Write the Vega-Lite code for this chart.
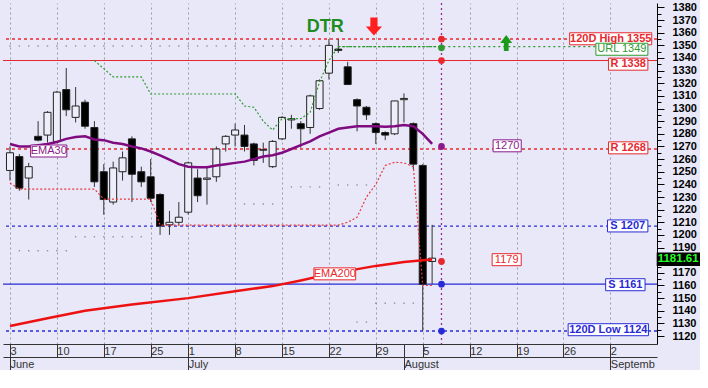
{
  "$schema": "https://vega.github.io/schema/vega-lite/v6.json",
  "width": 654,
  "height": 341,
  "autosize": {"type": "none"},
  "padding": {"left": 3, "top": 3, "right": 43, "bottom": 26},
  "background": "#e8e8f8",
  "config": {
    "view": {"stroke": null},
    "font": "Liberation Sans",
    "legend": {"disable": true},
    "axis": {"labelFont": "Liberation Sans", "titleFont": "Liberation Sans"}
  },
  "resolve": {"axis": {"x": "independent", "y": "independent"}},
  "datasets": {
    "candles": [
      {"t":0,"date":"06-03","o":1251,"h":1270,"l":1243,"c":1265,"ema30":1272},
      {"t":1,"date":"06-04","o":1262,"h":1264,"l":1235,"c":1237,"ema30":1270},
      {"t":2,"date":"06-05","o":1245,"h":1257,"l":1228,"c":1254,"ema30":1270},
      {"t":3,"date":"06-06","o":1278,"h":1290,"l":1274,"c":1275,"ema30":1271},
      {"t":4,"date":"06-07","o":1279,"h":1298,"l":1273,"c":1297,"ema30":1272},
      {"t":5,"date":"06-10","o":1274,"h":1314,"l":1273,"c":1313,"ema30":1273.5},
      {"t":6,"date":"06-11","o":1315,"h":1332,"l":1294,"c":1299,"ema30":1276},
      {"t":7,"date":"06-12","o":1293,"h":1317,"l":1289,"c":1302,"ema30":1277.5},
      {"t":8,"date":"06-13","o":1305,"h":1307,"l":1284,"c":1286,"ema30":1278},
      {"t":9,"date":"06-14","o":1285,"h":1290,"l":1238,"c":1242,"ema30":1275.5},
      {"t":10,"date":"06-17","o":1250,"h":1256,"l":1216,"c":1228,"ema30":1275},
      {"t":11,"date":"06-18","o":1226,"h":1258,"l":1224,"c":1253,"ema30":1273},
      {"t":12,"date":"06-19","o":1250,"h":1266,"l":1243,"c":1261,"ema30":1272},
      {"t":13,"date":"06-20","o":1276,"h":1278,"l":1226,"c":1248,"ema30":1270},
      {"t":14,"date":"06-21","o":1250,"h":1254,"l":1238,"c":1242,"ema30":1268.5},
      {"t":15,"date":"06-25","o":1246,"h":1260,"l":1226,"c":1229,"ema30":1266},
      {"t":16,"date":"06-26","o":1232,"h":1233,"l":1200,"c":1207,"ema30":1263},
      {"t":17,"date":"06-27","o":1208,"h":1219,"l":1200,"c":1210,"ema30":1259.5},
      {"t":18,"date":"06-28","o":1210,"h":1226,"l":1208,"c":1214,"ema30":1256},
      {"t":19,"date":"07-01","o":1218,"h":1258,"l":1216,"c":1257,"ema30":1254},
      {"t":20,"date":"07-02","o":1245,"h":1252,"l":1226,"c":1231,"ema30":1253.5},
      {"t":21,"date":"07-03","o":1244,"h":1254,"l":1224,"c":1245,"ema30":1253.5},
      {"t":22,"date":"07-04","o":1246,"h":1270,"l":1242,"c":1268,"ema30":1255},
      {"t":23,"date":"07-05","o":1272,"h":1279,"l":1266,"c":1278,"ema30":1256},
      {"t":24,"date":"07-08","o":1279,"h":1288,"l":1270,"c":1283,"ema30":1257},
      {"t":25,"date":"07-09","o":1279,"h":1287,"l":1266,"c":1270,"ema30":1258},
      {"t":26,"date":"07-10","o":1272,"h":1273,"l":1255,"c":1259,"ema30":1260},
      {"t":27,"date":"07-11","o":1267,"h":1273,"l":1257,"c":1267.5,"ema30":1262},
      {"t":28,"date":"07-12","o":1254,"h":1275,"l":1253,"c":1274,"ema30":1263},
      {"t":29,"date":"07-15","o":1276,"h":1294,"l":1275,"c":1293,"ema30":1265},
      {"t":30,"date":"07-16","o":1291,"h":1295,"l":1284,"c":1292,"ema30":1268},
      {"t":31,"date":"07-17","o":1288,"h":1290,"l":1269,"c":1284,"ema30":1271},
      {"t":32,"date":"07-18","o":1285,"h":1311,"l":1280,"c":1310,"ema30":1274},
      {"t":33,"date":"07-19","o":1300,"h":1323,"l":1299,"c":1322,"ema30":1278},
      {"t":34,"date":"07-22","o":1328,"h":1355,"l":1323,"c":1350,"ema30":1281},
      {"t":35,"date":"07-23","o":1347,"h":1355,"l":1344,"c":1346,"ema30":1284},
      {"t":36,"date":"07-24","o":1333,"h":1337,"l":1319,"c":1319,"ema30":1285},
      {"t":37,"date":"07-25","o":1307,"h":1308,"l":1282,"c":1302,"ema30":1286},
      {"t":38,"date":"07-26","o":1301,"h":1302,"l":1291,"c":1295,"ema30":1286},
      {"t":39,"date":"07-29","o":1288,"h":1289,"l":1272,"c":1281,"ema30":1286},
      {"t":40,"date":"07-30","o":1281,"h":1282,"l":1275,"c":1279,"ema30":1285.5},
      {"t":41,"date":"07-31","o":1280,"h":1306,"l":1279,"c":1306,"ema30":1286},
      {"t":42,"date":"08-01","o":1307,"h":1312,"l":1289,"c":1308,"ema30":1287},
      {"t":43,"date":"08-02","o":1288,"h":1289,"l":1252,"c":1256,"ema30":1286},
      {"t":44,"date":"08-05","o":1255,"h":1256,"l":1124,"c":1161,"ema30":1280},
      {"t":45,"date":"08-06","o":1179,"h":1208,"l":1161,"c":1181.61,"ema30":1272}
    ],
    "ema200": [
      {"t":0,"v":1128},{"t":4,"v":1134},{"t":8,"v":1140},{"t":13,"v":1145},
      {"t":19,"v":1150},{"t":24,"v":1155.5},{"t":28,"v":1159.5},{"t":31,"v":1164},
      {"t":34,"v":1169},{"t":39,"v":1175.5},{"t":42,"v":1178.5},{"t":44,"v":1180},{"t":45,"v":1180.5}
    ],
    "upper": [
      {"t":9,"v":1338},{"t":11,"v":1325},{"t":14,"v":1325},{"t":15,"v":1311.5},
      {"t":24,"v":1311.5},{"t":25,"v":1302},{"t":26,"v":1301},{"t":27,"v":1290},
      {"t":28,"v":1283},{"t":29,"v":1292},{"t":31,"v":1292},{"t":32,"v":1297},
      {"t":33,"v":1321},{"t":34,"v":1338},{"t":35,"v":1349},{"t":46,"v":1349}
    ],
    "lower": [
      {"t":0,"v":1241},{"t":1,"v":1236.3},{"t":9,"v":1236.3},{"t":10,"v":1228.4},
      {"t":15,"v":1228.4},{"t":16,"v":1207.8},{"t":35,"v":1207.8},{"t":36,"v":1210},
      {"t":37,"v":1214},{"t":38,"v":1230},{"t":39,"v":1240},{"t":40,"v":1255},
      {"t":41,"v":1257.5},{"t":42,"v":1257},{"t":43,"v":1254},{"t":44,"v":1160},{"t":45,"v":1160}
    ],
    "stops": [
      {"t":0,"v":1349.5},{"t":1,"v":1349.5},{"t":2,"v":1349.5},{"t":3,"v":1349.5},{"t":4,"v":1349.5},
      {"t":5,"v":1349.5},{"t":6,"v":1349.5},{"t":7,"v":1349.5},{"t":8,"v":1349.5},{"t":9,"v":1349.5},
      {"t":10,"v":1349.5},{"t":11,"v":1349.5},{"t":12,"v":1349.5},{"t":13,"v":1349.5},{"t":14,"v":1349.5},
      {"t":15,"v":1349.5},{"t":16,"v":1349.5},{"t":17,"v":1349.5},{"t":18,"v":1349.5},{"t":19,"v":1349.5},
      {"t":20,"v":1349.5},{"t":21,"v":1349.5},{"t":22,"v":1349.5},{"t":23,"v":1349.5},{"t":24,"v":1349.5},
      {"t":25,"v":1349.5},{"t":26,"v":1349.5},{"t":27,"v":1349.5},{"t":28,"v":1349.5},{"t":29,"v":1349.5},
      {"t":30,"v":1349.5},{"t":31,"v":1349.5},{"t":32,"v":1349.5},{"t":33,"v":1349.5},
      {"t":1,"v":1187.5},{"t":2,"v":1187.5},{"t":3,"v":1187.5},{"t":4,"v":1187.5},{"t":5,"v":1187.5},{"t":6,"v":1187.5},
      {"t":7,"v":1198.6},{"t":8,"v":1198.6},{"t":9,"v":1198.6},{"t":10,"v":1198.6},{"t":11,"v":1198.6},
      {"t":12,"v":1198.6},{"t":13,"v":1198.6},{"t":14,"v":1198.6},
      {"t":25,"v":1224.5},{"t":26,"v":1224.5},{"t":27,"v":1224.5},{"t":28,"v":1224.5},
      {"t":30,"v":1238},{"t":31,"v":1238},{"t":32,"v":1238},{"t":33,"v":1238},
      {"t":35,"v":1239.5},{"t":36,"v":1239.5},{"t":37,"v":1239.5},{"t":38,"v":1239.5},
      {"t":37,"v":1131},{"t":38,"v":1131},
      {"t":39,"v":1146},{"t":40,"v":1146},{"t":41,"v":1146},{"t":42,"v":1146},{"t":43,"v":1146}
    ],
    "levels": [
      {"label":"120D High 1355","v":1355,"kind":"high"},
      {"label":"URL 1349","v":1349,"kind":"url","start":35,"end":68},
      {"label":"R 1338","v":1338,"kind":"resistance"},
      {"label":"R 1268","v":1268,"kind":"resistance"},
      {"label":"S 1207","v":1207,"kind":"support"},
      {"label":"S 1161","v":1161,"kind":"support"},
      {"label":"120D Low 1124","v":1124,"kind":"low"}
    ],
    "projection": [
      {"t":46,"v":1355,"kind":"high"},
      {"t":46,"v":1348,"kind":"url"},
      {"t":46,"v":1338,"kind":"resistance"},
      {"t":46,"v":1270,"kind":"ema30"},
      {"t":46,"v":1179,"kind":"ema200"},
      {"t":46,"v":1161,"kind":"support"},
      {"t":46,"v":1124,"kind":"low"}
    ],
    "labels": [
      {"text":"120D High 1355","v":1355.2,"t1":59.66,"t2":68.41,"tm":64.04,"kind":"high","bold":true},
      {"text":"URL 1349","v":1346.9,"t1":62.46,"t2":68.0,"tm":65.23,"kind":"url","bold":false},
      {"text":"R 1338","v":1335.1,"t1":63.8,"t2":68.0,"tm":65.9,"kind":"resistance","bold":true},
      {"text":"1270","v":1270.5,"t1":51.5,"t2":54.5,"tm":53.0,"kind":"ema30","bold":false},
      {"text":"R 1268","v":1268.9,"t1":63.8,"t2":68.0,"tm":65.9,"kind":"resistance","bold":true},
      {"text":"S 1207","v":1207.1,"t1":63.7,"t2":68.0,"tm":65.85,"kind":"support","bold":true},
      {"text":"1179","v":1180.4,"t1":51.4,"t2":54.5,"tm":52.95,"kind":"ema200","bold":false},
      {"text":"S 1161","v":1160.6,"t1":63.5,"t2":67.7,"tm":65.6,"kind":"support","bold":true},
      {"text":"120D Low 1124","v":1125.0,"t1":59.5,"t2":68.06,"tm":63.78,"kind":"low","bold":true},
      {"text":"EMA30","v":1266.4,"t1":2.2,"t2":6.06,"tm":4.13,"kind":"ema30","bold":false},
      {"text":"EMA200","v":1169.2,"t1":32.4,"t2":36.85,"tm":34.63,"kind":"ema200","bold":false}
    ],
    "last": [{"text":"1181.61","v":1181,"t1":68.94,"t2":75}],
    "marker": [{"t":46,"date":"08-07"}],
    "title": [{"text":"DTR","t":33.6,"v":1364.5}],
    "signals": [
      {"signal":"sell","t":38.8,"v":1365},
      {"signal":"buy","t":52.9,"v":1351.8}
    ]
  },
  "layer": [
    {
      "data": {"name": "levels"},
      "transform": [{"filter": "datum.kind != 'url' && datum.v != 1338 && datum.v != 1161"}],
      "mark": {"type": "rule", "strokeDash": [3, 3], "strokeWidth": 1.3},
      "encoding": {
        "y": {
          "field": "v", "type": "quantitative", "title": null,
          "scale": {"domain": [1113.7, 1383.5], "nice": false, "zero": false},
          "axis": {
            "orient": "right",
            "values": [1120,1125,1130,1135,1140,1145,1150,1155,1160,1165,1170,1175,1180,1185,1190,1195,1200,1205,1210,1215,1220,1225,1230,1235,1240,1245,1250,1255,1260,1265,1270,1275,1280,1285,1290,1295,1300,1305,1310,1315,1320,1325,1330,1335,1340,1345,1350,1355,1360,1365,1370,1375,1380],
            "format": "d",
            "labelExpr": "datum.value % 10 == 0 && datum.value != 1180 ? datum.label : ''",
            "tickSize": {"condition": {"test": "datum.value % 10 != 0", "value": 4}, "value": 7},
            "labelPadding": 8,
            "labelFontWeight": "bold",
            "labelFontSize": 11,
            "labelColor": "#000000",
            "tickColor": "#000000",
            "domainColor": "#000000",
            "grid": false,
            "labelOverlap": false,
            "labelSeparation": 0,
            "labelFlush": false,
            "labelBound": false,
            "title": null,
            "zindex": 0
          }
        },
        "color": {
          "field": "kind", "type": "nominal",
          "scale": {"domain": ["high","url","resistance","support","low","ema30","ema200"], "range": ["#e8282e","#2f9a2f","#e8282e","#2b2bd6","#2b2bd6","#8b1a8b","#e8282e"]}
        }
      }
    },
    {
      "data": {"name": "levels"},
      "transform": [{"filter": "datum.v == 1338 || datum.v == 1161"}],
      "mark": {"type": "rule", "strokeWidth": 1.2},
      "encoding": {
        "y": {"field": "v", "type": "quantitative", "title": null, "axis": null},
        "color": {"field": "kind", "type": "nominal"}
      }
    },
    {
      "data": {"name": "levels"},
      "transform": [{"filter": "datum.kind == 'url'"}],
      "mark": {"type": "rule", "strokeDash": [2, 3], "strokeWidth": 1.2},
      "encoding": {
        "x": {"field": "start", "type": "quantitative", "title": null, "axis": null,
              "scale": {"domain": [-0.21, 68.44], "nice": false, "zero": false}},
        "x2": {"field": "end"},
        "y": {"field": "v", "type": "quantitative", "title": null, "axis": null},
        "color": {"field": "kind", "type": "nominal"}
      }
    },
    {
      "data": {"name": "stops"},
      "mark": {"type": "square", "size": 2, "color": "#8a8a96", "opacity": 0.9, "clip": true},
      "encoding": {
        "x": {"field": "t", "type": "quantitative", "title": null, "axis": null},
        "y": {"field": "v", "type": "quantitative", "title": null, "axis": null}
      }
    },
    {
      "data": {"name": "marker"},
      "mark": {"type": "rule", "color": "#9a2a9a", "strokeDash": [2, 3], "strokeWidth": 1.3},
      "encoding": {
        "x": {
          "field": "t", "type": "quantitative", "title": null,
          "axis": {
            "orient": "bottom", "offset": 13,
            "values": [0, 19, 42, 64],
            "labelExpr": "datum.value == 0 ? 'June' : datum.value == 19 ? 'July' : datum.value == 42 ? 'August' : 'Septemb'",
            "tickSize": 13, "tickColor": "#333333", "domainColor": "#333333",
            "labelAlign": "left", "labelBaseline": "middle", "labelPadding": -6, "labelDx": 2,
            "labelFontSize": 11, "labelColor": "#333333",
            "grid": false, "labelFlush": false, "labelOverlap": false, "labelBound": false,
            "title": null, "zindex": 0
          }
        }
      }
    },
    {
      "data": {"name": "candles"},
      "mark": {"type": "rule", "color": "#333333", "strokeWidth": 1, "clip": true},
      "encoding": {
        "x": {
          "field": "t", "type": "quantitative", "title": null,
          "axis": {
            "orient": "top",
            "values": [0, 5, 10, 15, 19, 24, 29, 34, 39, 44, 49, 54, 59, 64],
            "grid": true, "gridColor": "#9a9aaa", "gridDash": [2, 3], "gridWidth": 1,
            "ticks": false, "labels": false, "domain": false, "title": null, "zindex": 0
          }
        },
        "y": {"field": "l", "type": "quantitative", "title": null, "axis": null},
        "y2": {"field": "h"}
      }
    },
    {
      "data": {"name": "candles"},
      "mark": {"type": "bar", "width": 7, "stroke": "#222222", "strokeWidth": 1, "clip": true},
      "encoding": {
        "x": {
          "field": "t", "type": "quantitative", "title": null,
          "axis": {
            "orient": "bottom",
            "values": [0, 5, 10, 15, 19, 24, 29, 34, 39, 42, 44, 49, 54, 59, 64],
            "labelExpr": "indexof([0,5,10,15,19,24,29,34,39,44,49,54,59,64], datum.value) < 0 ? '' : ['3','10','17','25','1','8','15','22','29','5','12','19','26','2'][indexof([0,5,10,15,19,24,29,34,39,44,49,54,59,64], datum.value)]",
            "tickSize": 13, "tickColor": "#333333", "domainColor": "#333333",
            "labelAlign": "left", "labelBaseline": "middle", "labelPadding": -6, "labelDx": 2,
            "labelFontSize": 11, "labelColor": "#333333",
            "grid": false, "labelFlush": false, "labelOverlap": false, "labelBound": false,
            "title": null, "zindex": 0
          }
        },
        "y": {"field": "o", "type": "quantitative", "title": null, "axis": null},
        "y2": {"field": "c"},
        "fill": {"condition": {"test": "datum.c < datum.o", "value": "#000000"}, "value": "#eeeefa"}
      }
    },
    {
      "data": {"name": "lower"},
      "mark": {"type": "line", "color": "#e8383e", "strokeDash": [2, 2], "strokeWidth": 1.2, "clip": true},
      "encoding": {
        "x": {"field": "t", "type": "quantitative", "title": null, "axis": null},
        "y": {"field": "v", "type": "quantitative", "title": null, "axis": null}
      }
    },
    {
      "data": {"name": "upper"},
      "mark": {"type": "line", "color": "#2f9a2f", "strokeDash": [2, 2], "strokeWidth": 1.2, "clip": true},
      "encoding": {
        "x": {"field": "t", "type": "quantitative", "title": null, "axis": null},
        "y": {"field": "v", "type": "quantitative", "title": null, "axis": null}
      }
    },
    {
      "data": {"name": "candles"},
      "mark": {"type": "line", "color": "#800a80", "strokeWidth": 2.5, "clip": true},
      "encoding": {
        "x": {"field": "t", "type": "quantitative", "title": null, "axis": null},
        "y": {"field": "ema30", "type": "quantitative", "title": null, "axis": null}
      }
    },
    {
      "data": {"name": "ema200"},
      "mark": {"type": "line", "color": "#ee1111", "strokeWidth": 2.5, "clip": true},
      "encoding": {
        "x": {"field": "t", "type": "quantitative", "title": null, "axis": null},
        "y": {"field": "v", "type": "quantitative", "title": null, "axis": null}
      }
    },
    {
      "data": {"name": "projection"},
      "mark": {"type": "circle", "size": 45, "opacity": 1},
      "encoding": {
        "x": {"field": "t", "type": "quantitative", "title": null, "axis": null},
        "y": {"field": "v", "type": "quantitative", "title": null, "axis": null},
        "color": {"field": "kind", "type": "nominal"}
      }
    },
    {
      "data": {"name": "labels"},
      "mark": {"type": "rect", "fill": "#ffffff", "strokeWidth": 1, "yOffset": -6, "y2Offset": 6},
      "encoding": {
        "x": {"field": "t1", "type": "quantitative", "title": null, "axis": null},
        "x2": {"field": "t2"},
        "y": {"field": "v", "type": "quantitative", "title": null, "axis": null},
        "y2": {"field": "v"},
        "stroke": {
          "field": "kind", "type": "nominal",
          "scale": {"domain": ["high","url","resistance","support","low","ema30","ema200"], "range": ["#e8282e","#2f9a2f","#e8282e","#2b2bd6","#2b2bd6","#8b1a8b","#e8282e"]}
        }
      }
    },
    {
      "data": {"name": "labels"},
      "transform": [{"filter": "datum.bold"}],
      "mark": {"type": "text", "fontSize": 11, "fontWeight": "bold", "align": "center", "baseline": "middle", "font": "Liberation Sans"},
      "encoding": {
        "x": {"field": "tm", "type": "quantitative", "title": null, "axis": null},
        "y": {"field": "v", "type": "quantitative", "title": null, "axis": null},
        "text": {"field": "text"},
        "color": {"field": "kind", "type": "nominal"}
      }
    },
    {
      "data": {"name": "labels"},
      "transform": [{"filter": "!datum.bold"}],
      "mark": {"type": "text", "fontSize": 11, "align": "center", "baseline": "middle", "font": "Liberation Sans"},
      "encoding": {
        "x": {"field": "tm", "type": "quantitative", "title": null, "axis": null},
        "y": {"field": "v", "type": "quantitative", "title": null, "axis": null},
        "text": {"field": "text"},
        "color": {"field": "kind", "type": "nominal"}
      }
    },
    {
      "data": {"name": "last"},
      "mark": {"type": "rect", "fill": "#000000", "yOffset": -6.5, "y2Offset": 7},
      "encoding": {
        "x": {"field": "t1", "type": "quantitative", "title": null, "axis": null},
        "x2": {"field": "t2"},
        "y": {"field": "v", "type": "quantitative", "title": null, "axis": null},
        "y2": {"field": "v"}
      }
    },
    {
      "data": {"name": "last"},
      "mark": {"type": "text", "fontSize": 11.5, "fontWeight": "bold", "align": "left", "baseline": "middle", "dx": 1, "dy": 0.5, "color": "#22ff22", "font": "Liberation Sans"},
      "encoding": {
        "x": {"field": "t1", "type": "quantitative", "title": null, "axis": null},
        "y": {"field": "v", "type": "quantitative", "title": null, "axis": null},
        "text": {"field": "text"}
      }
    },
    {
      "data": {"name": "title"},
      "mark": {"type": "text", "fontSize": 18, "fontWeight": "bold", "align": "center", "baseline": "middle", "color": "#1f8c1f", "font": "Liberation Sans"},
      "encoding": {
        "x": {"field": "t", "type": "quantitative", "title": null, "axis": null},
        "y": {"field": "v", "type": "quantitative", "title": null, "axis": null},
        "text": {"field": "text"}
      }
    },
    {
      "data": {"name": "signals"},
      "transform": [{"filter": "datum.signal == 'sell'"}],
      "mark": {"type": "point", "filled": true, "size": 324, "opacity": 1, "color": "#ff1f1f", "shape": "M-0.4,-1L0.4,-1L0.4,0L0.9,0L0,1L-0.9,0L-0.4,0Z"},
      "encoding": {
        "x": {"field": "t", "type": "quantitative", "title": null, "axis": null},
        "y": {"field": "v", "type": "quantitative", "title": null, "axis": null}
      }
    },
    {
      "data": {"name": "signals"},
      "transform": [{"filter": "datum.signal == 'buy'"}],
      "mark": {"type": "point", "filled": true, "size": 256, "opacity": 1, "color": "#1a9a1a", "shape": "M-0.3,1L0.3,1L0.3,0L0.75,0L0,-1L-0.75,0L-0.3,0Z"},
      "encoding": {
        "x": {"field": "t", "type": "quantitative", "title": null, "axis": null},
        "y": {"field": "v", "type": "quantitative", "title": null, "axis": null}
      }
    }
  ]
}
